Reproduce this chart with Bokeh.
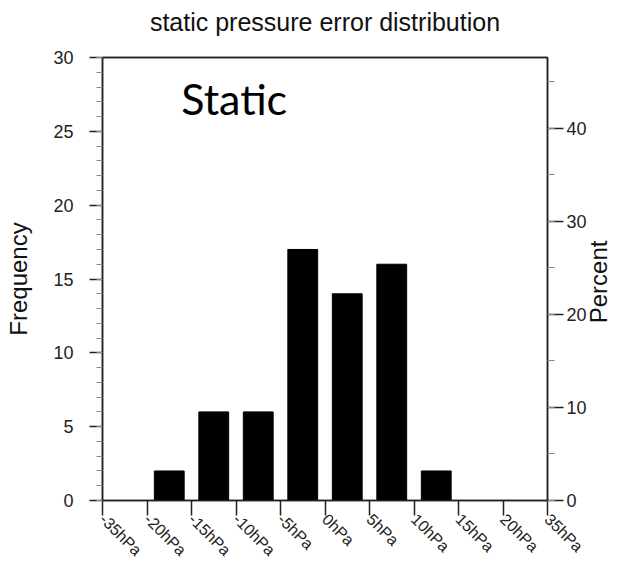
import math
from bokeh.plotting import figure
from bokeh.models import (Range1d, LinearAxis, FixedTicker, SingleIntervalTicker,
                          Label, ColumnDataSource)
from bokeh.embed import file_html
from bokeh.resources import INLINE

# ---- data ----
tick_labels = ["-35hPa", "-20hPa", "-15hPa", "-10hPa", "-5hPa", "0hPa",
               "5hPa", "10hPa", "15hPa", "20hPa", "35hPa"]
bin_counts = [0, 2, 6, 6, 17, 14, 16, 2, 0, 0]
freq_max = 30
title_text = "static pressure error distribution"
note_text = "Static"
right_title = "Percent"

total = sum(bin_counts)
pct_max = freq_max / total * 100.0
n_bins = len(bin_counts)

FONT = "Liberation Sans"
INK = "#222222"
PCT_TITLE_START = freq_max * 0.4   # layout: where the rotated right title begins

p = figure(width=628, height=568, output_backend="svg", toolbar_location=None,
           x_range=Range1d(0, n_bins), y_range=Range1d(0, freq_max),
           min_border_left=102, min_border_right=80, min_border_top=57,
           min_border_bottom=66, background_fill_color="white",
           border_fill_color="white")

p.xgrid.visible = False
p.ygrid.visible = False
p.outline_line_color = INK
p.outline_line_width = 1.5

centers = [i + 0.5 for i in range(n_bins)]
src = ColumnDataSource(dict(x=centers, top=bin_counts))
p.vbar(x="x", top="top", width=0.67, bottom=0, source=src,
       fill_color="black", line_color="black")

# bottom x axis
xa = p.below[0]
xa.ticker = FixedTicker(ticks=list(range(len(tick_labels))))
xa.major_label_overrides = {i: t for i, t in enumerate(tick_labels)}
xa.major_label_orientation = -math.pi / 4
xa.major_tick_out = 15
xa.major_tick_in = 0
xa.minor_tick_line_color = None
xa.major_label_text_font = FONT
xa.major_label_text_font_size = "16px"
xa.major_label_text_color = INK
xa.major_label_standoff = 1
xa.axis_line_width = 1.5
xa.axis_line_color = INK
xa.major_tick_line_width = 1.5
xa.major_tick_line_color = INK

# left axis
ya = p.left[0]
ya.ticker = SingleIntervalTicker(interval=5, num_minor_ticks=5)
ya.axis_label = "Frequency"
ya.axis_label_text_font = FONT
ya.axis_label_text_font_size = "24px"
ya.axis_label_text_font_style = "normal"
ya.axis_label_text_color = "#111111"
ya.axis_label_standoff = 18
ya.major_label_text_font = FONT
ya.major_label_text_font_size = "18px"
ya.major_label_text_color = INK
ya.major_label_standoff = 16
ya.major_tick_out = 13
ya.major_tick_in = 0
ya.minor_tick_out = 6
ya.minor_tick_in = 0
ya.minor_tick_line_color = "#888888"
ya.axis_line_width = 1.5
ya.axis_line_color = INK
ya.major_tick_line_width = 1.5
ya.major_tick_line_color = INK

# top axis carries the chart title as its label (no ticks)
ta = LinearAxis(ticker=FixedTicker(ticks=[]))
ta.axis_label = title_text
ta.axis_label_text_font = FONT
ta.axis_label_text_font_size = "25px"
ta.axis_label_text_font_style = "normal"
ta.axis_label_text_color = "#111111"
ta.axis_label_standoff = 22
ta.major_tick_out = 0
ta.major_tick_in = 0
ta.minor_tick_out = 0
ta.minor_tick_in = 0
ta.major_label_standoff = 0
ta.axis_line_width = 1.5
ta.axis_line_color = INK
p.add_layout(ta, "above")

# right axis (percent)
p.extra_y_ranges = {"pct": Range1d(0, pct_max)}
ra = LinearAxis(y_range_name="pct",
                ticker=SingleIntervalTicker(interval=10, num_minor_ticks=2))
ra.major_label_text_font = FONT
ra.major_label_text_font_size = "18px"
ra.major_label_text_color = INK
ra.major_label_standoff = 3
ra.major_tick_out = 16
ra.major_tick_in = 0
ra.minor_tick_out = 7
ra.minor_tick_in = 0
ra.minor_tick_line_color = "#888888"
ra.axis_line_width = 1.5
ra.axis_line_color = INK
ra.major_tick_line_width = 1.5
ra.major_tick_line_color = INK
p.add_layout(ra, "right")

# right-hand title "Percent", reading bottom to top
rt = LinearAxis(ticker=FixedTicker(ticks=[PCT_TITLE_START]))
rt.major_label_overrides = {PCT_TITLE_START: right_title}
rt.major_label_orientation = math.pi / 2
rt.major_label_text_font = FONT
rt.major_label_text_font_size = "24px"
rt.major_label_text_color = "#111111"
rt.major_label_standoff = 9
rt.major_tick_out = 0
rt.major_tick_in = 0
rt.minor_tick_out = 0
rt.minor_tick_in = 0
rt.axis_line_color = None
rt.major_tick_line_color = None
rt.minor_tick_line_color = None
p.add_layout(rt, "right")

# "Static" annotation
p.add_layout(Label(x=1.77, y=27.2, text=note_text, text_font="Lato",
                   text_font_size="43px", text_color="black",
                   text_align="left", text_baseline="alphabetic"))

open("out.html", "w").write(file_html(p, INLINE))
